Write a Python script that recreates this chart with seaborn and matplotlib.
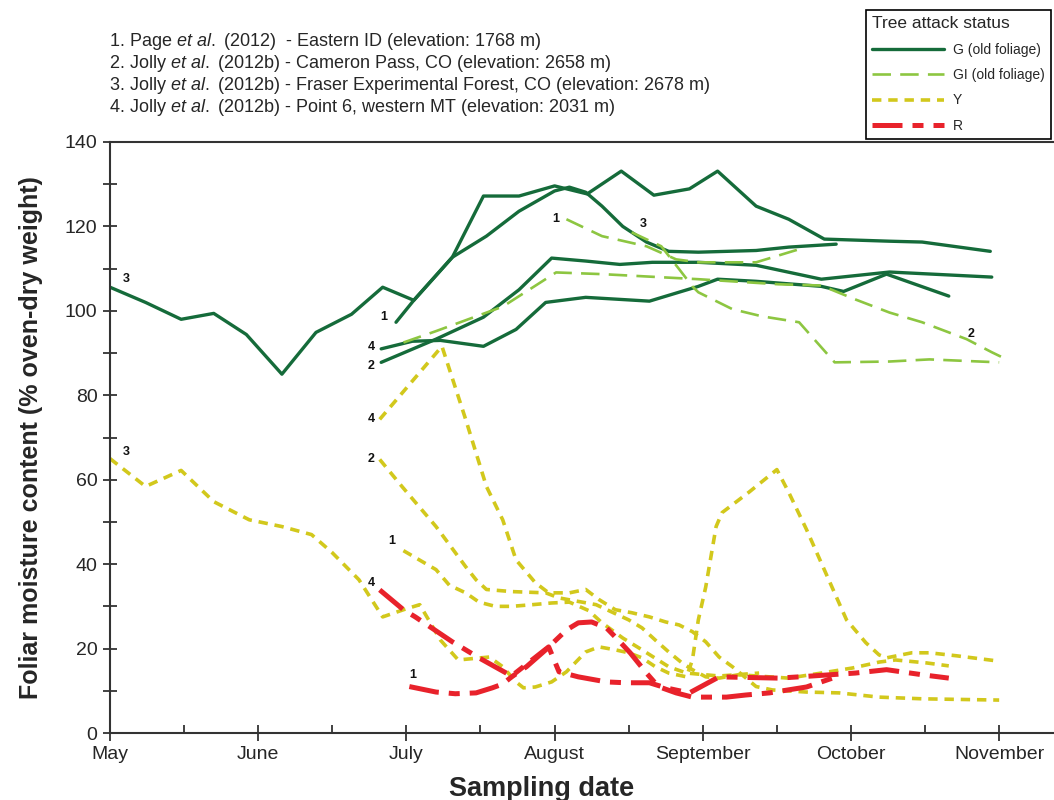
import numpy as np
import pandas as pd
import matplotlib
matplotlib.use("Agg")
import matplotlib.pyplot as plt
from matplotlib.lines import Line2D
from matplotlib.ticker import MultipleLocator
import seaborn as sns

sns.set_theme(style="ticks")
plt.rcParams["font.family"] = ["Liberation Sans", "DejaVu Sans"]
plt.rcParams["mathtext.fontset"] = "custom"
plt.rcParams["mathtext.rm"] = "Liberation Sans"
plt.rcParams["mathtext.it"] = "Liberation Sans:italic"

# x = months after 1 May, y = foliar moisture content (%)
months = ["May", "June", "July", "August", "September", "October", "November"]

# --- G (old foliage) ---
g1_x = [1.93, 2.05, 2.31, 2.54, 2.76, 3.00, 3.10, 3.21, 3.32, 3.46, 3.62, 3.77, 3.97, 4.36, 4.58, 4.90]
g1_y = [97.3, 102.5, 112.7, 117.7, 123.6, 128.4, 129.3, 128.1, 124.8, 120, 116.3, 114.1, 113.9, 114.3, 115.1, 115.8]
g2_x = [1.83, 2.20, 2.52, 2.76, 2.98, 3.21, 3.44, 3.66, 3.97, 4.36, 4.80, 5.26, 5.95]
g2_y = [87.8, 93.3, 98.5, 105, 112.5, 111.8, 111, 111.5, 111.5, 110.8, 107.5, 109.2, 108]
g3_x = [0, 0.24, 0.48, 0.70, 0.92, 1.16, 1.39, 1.63, 1.84, 2.05, 2.31, 2.52, 2.76, 3.00,
        3.22, 3.45, 3.67, 3.91, 4.10, 4.36, 4.58, 4.82, 5.26, 5.48, 5.94]
g3_y = [105.6, 102, 98, 99.4, 94.4, 85, 94.9, 99.2, 105.6, 102.5, 112.7, 127.2, 127.2, 129.6,
        127.7, 133.1, 127.4, 128.9, 133.1, 124.8, 121.7, 117, 116.5, 116.3, 114.1]
g4_x = [1.83, 2.04, 2.23, 2.52, 2.74, 2.94, 3.21, 3.64, 3.97, 4.10, 4.36, 4.80, 4.95, 5.24, 5.66]
g4_y = [91, 92.8, 93, 91.6, 95.6, 102, 103.2, 102.3, 105.8, 107.5, 107, 105.8, 104.6, 108.7, 103.5]

# --- GI (old foliage) ---
gi1_x = [3.08, 3.32, 3.62, 3.82, 3.97, 4.36, 4.65]
gi1_y = [121.7, 117.7, 115.3, 112.2, 111.5, 111.5, 114.6]
gi2_x = [1.98, 2.20, 2.65, 3.01, 3.32, 3.97, 4.51, 4.80, 5.03, 5.26, 5.48, 5.78, 5.95, 6.05]
gi2_y = [92.5, 95.2, 101, 109.1, 108.7, 107.5, 106.3, 106, 102.7, 99.6, 97.3, 93.3, 90.2, 88.5]
gi3_x = [3.52, 3.72, 3.84, 3.93, 3.97, 4.20, 4.40, 4.65, 4.89, 5.26, 5.53, 6.00]
gi3_y = [118.6, 115.3, 109.9, 105.8, 104.4, 100.4, 98.7, 97.3, 87.8, 88, 88.5, 87.8]

# --- Y ---
y1_x = [1.98, 2.20, 2.29, 2.40, 2.49, 2.60, 2.71, 2.85, 2.98, 3.10, 3.23, 3.32, 3.46, 3.59, 3.77, 3.89, 4.11, 4.38]
y1_y = [43.2, 38.7, 35, 33.2, 31, 30, 30, 30.4, 30.8, 31, 29, 26.1, 22.5, 19.7, 15.7, 14.2, 13.5, 14.2]
y2_x = [1.82, 1.97, 2.20, 2.40, 2.47, 2.54, 2.71, 2.94, 3.03, 3.28, 3.50, 3.59, 3.68, 3.77, 3.86,
        3.93, 4.02, 4.11, 4.24, 4.58, 4.80, 5.01, 5.19, 5.30, 5.51, 5.66]
y2_y = [64.8, 58.4, 48.9, 39.4, 36.3, 34, 33.5, 33.2, 32, 30.4, 26.8, 24.9, 22, 19.2, 16.6,
        15, 13.3, 13, 13.8, 13, 14.2, 15.4, 16.8, 17.3, 16.6, 15.9]
y3_x = [0.00, 0.24, 0.48, 0.70, 0.94, 1.16, 1.36, 1.50, 1.68, 1.84, 1.98, 2.09, 2.23, 2.35, 2.56,
        2.65, 2.74, 2.79, 2.87, 2.98, 3.08, 3.21, 3.30, 3.41, 3.50, 3.59, 3.68, 3.77, 3.89, 3.93,
        3.97, 4.02, 4.09, 4.13, 4.31, 4.50, 4.58, 4.70, 4.85, 4.97, 5.10, 5.19, 5.24, 5.41, 5.53,
        5.71, 5.98]
y3_y = [65, 58.4, 62.2, 54.8, 50.5, 48.9, 47, 42.7, 36.3, 27.5, 29.2, 30.4, 22, 17.3, 18,
        15.7, 12.1, 10.7, 10.9, 12.1, 14.5, 19.2, 20.4, 19.7, 19, 17.8, 15.7, 14.2, 13.3, 17.3,
        26.8, 34.6, 48.9, 52.2, 57, 62.4, 57, 48.2, 36.3, 26.8, 21.4, 18.5, 17.8, 19, 19,
        18.3, 17.1]
y4_x = [1.82, 2.24, 2.40, 2.54, 2.65, 2.74, 2.87, 2.96, 3.10, 3.21, 3.30, 3.41, 3.52, 3.64,
        3.75, 3.84, 3.93, 4.02, 4.11, 4.20, 4.36, 4.47, 4.70, 4.92, 5.19, 5.48, 6.00]
y4_y = [74.3, 91.6, 74.3, 58.4, 50.5, 41, 35.6, 33.2, 33.2, 34, 31.6, 29.2, 28.5, 27.5,
        26.3, 25.6, 24, 21.6, 18, 15.7, 11, 10.2, 9.7, 9.5, 8.5, 8.1, 7.8]

# --- R ---
r1_x = [2.02, 2.20, 2.33, 2.47, 2.58, 2.65, 2.71, 2.81, 2.94, 3.08, 3.16, 3.25, 3.35, 3.43, 3.51,
        3.62, 3.70, 3.82, 3.93, 4.02, 4.16, 4.29, 4.45, 4.70, 4.90]
r1_y = [11, 9.7, 9.3, 9.5, 10.7, 11.6, 13.3, 15.7, 19.7, 24.4, 26.1, 26.3, 24.9, 22, 19,
        14.2, 11, 9.5, 8.5, 8.5, 8.5, 9, 9.5, 10.9, 13.3]
r4_x = [1.82, 1.98, 2.06, 2.31, 2.49, 2.71, 2.96, 3.03, 3.16, 3.35, 3.48, 3.64, 3.75, 3.91,
        4.11, 4.51, 4.65, 5.03, 5.24, 5.48, 5.66]
r4_y = [33.9, 29.2, 27.5, 21.6, 17.8, 13.5, 20.4, 14.5, 13.3, 12.1, 11.9, 11.9, 10.7, 9.5,
        13.3, 13, 13.3, 14.2, 15, 13.8, 13]

# site number labels next to line ends
lab_text = ["3", "1", "4", "2", "1", "3", "2", "3", "4", "2", "1", "4", "1"]
lab_x = [0.11, 1.85, 1.76, 1.76, 3.01, 3.60, 5.81, 0.11, 1.76, 1.76, 1.90, 1.76, 2.04]
lab_y = [107.5, 98.5, 91.4, 86.9, 121.7, 120.5, 94.4, 66.5, 74.3, 65, 45.6, 35.6, 13.7]

sources = [
    r"1. Page $\mathit{et\ al.}$ (2012)  - Eastern ID (elevation: 1768 m)",
    r"2. Jolly $\mathit{et\ al.}$ (2012b) - Cameron Pass, CO (elevation: 2658 m)",
    r"3. Jolly $\mathit{et\ al.}$ (2012b) - Fraser Experimental Forest, CO (elevation: 2678 m)",
    r"4. Jolly $\mathit{et\ al.}$ (2012b) - Point 6, western MT (elevation: 2031 m)",
]

series = {
    ("G", 1): (g1_x, g1_y), ("G", 2): (g2_x, g2_y), ("G", 3): (g3_x, g3_y), ("G", 4): (g4_x, g4_y),
    ("GI", 1): (gi1_x, gi1_y), ("GI", 2): (gi2_x, gi2_y), ("GI", 3): (gi3_x, gi3_y),
    ("Y", 1): (y1_x, y1_y), ("Y", 2): (y2_x, y2_y), ("Y", 3): (y3_x, y3_y), ("Y", 4): (y4_x, y4_y),
    ("R", 1): (r1_x, r1_y), ("R", 4): (r4_x, r4_y),
}
rows = []
for (status, site), (xs, ys) in series.items():
    for i, (xv, yv) in enumerate(zip(xs, ys)):
        rows.append({"status": status, "site": site, "order": i, "x": xv, "y": yv})
df = pd.DataFrame(rows)

styles = {
    "G": dict(color="#156b3a", lw=2.4, ls="-"),
    "GI": dict(color="#8dc641", lw=1.9, ls=(0, (7, 3.5))),
    "Y": dict(color="#d2c81c", lw=2.6, ls=(0, (2.6, 1.9))),
    "R": dict(color="#e8222b", lw=3.6, ls=(0, (6, 2, 2.2, 2))),
}
legend_labels = {"G": "G (old foliage)", "GI": "GI (old foliage)", "Y": "Y", "R": "R"}

fig = plt.figure(figsize=(10.54, 8.0), dpi=100)
ax = fig.add_axes([110 / 1054, 67 / 800, 944 / 1054, 591 / 800])

for status in ["G", "GI", "Y", "R"]:
    st = styles[status]
    sub = df[df["status"] == status]
    sns.lineplot(data=sub, x="x", y="y", units="site", estimator=None, sort=False,
                 color=st["color"], linewidth=st["lw"], linestyle=st["ls"],
                 legend=False, ax=ax)

for t, xv, yv in zip(lab_text, lab_x, lab_y):
    ax.text(xv, yv, t, fontsize=9, fontweight="bold", ha="center", va="center", color="#111111")

ax.set_xlim(0, 6.37)
ax.set_ylim(0, 140)
ax.xaxis.set_major_locator(MultipleLocator(1))
ax.xaxis.set_minor_locator(MultipleLocator(0.5))
ax.yaxis.set_major_locator(MultipleLocator(20))
ax.yaxis.set_minor_locator(MultipleLocator(10))
ax.set_xticks(range(len(months)))
ax.set_xticklabels(months)
ax.tick_params(axis="x", which="major", direction="inout", length=11, width=1.3,
               labelsize=14, pad=4, color="#333333")
ax.tick_params(axis="x", which="minor", direction="in", length=6, width=1.3, color="#333333")
ax.tick_params(axis="y", which="both", direction="inout", length=10, width=1.3,
               labelsize=14, pad=4, color="#333333")
for side in ["left", "bottom", "top"]:
    ax.spines[side].set_linewidth(1.5)
    ax.spines[side].set_color("#333333")
ax.spines["right"].set_visible(False)

ax.set_xlabel("Sampling date", fontsize=19.5, fontweight="bold")
ax.set_ylabel("Foliar moisture content (% oven-dry weight)", fontsize=18, fontweight="bold")
ax.xaxis.set_label_coords(0.457, -0.072)
ax.yaxis.set_label_coords(-0.071, 0.5)

for i, s in enumerate(sources):
    fig.text(109 / 1054, 1 - (42 + 21.7 * i) / 800, s, fontsize=13, ha="left", va="center")

handles = [Line2D([0], [0], color=styles[k]["color"], lw=styles[k]["lw"], ls=styles[k]["ls"])
           for k in ["G", "GI", "Y", "R"]]
leg = fig.legend(handles, [legend_labels[k] for k in ["G", "GI", "Y", "R"]],
                 loc="upper left", bbox_to_anchor=(866 / 1054, 1 - 10 / 800),
                 title="Tree attack status", title_fontsize=12.5, fontsize=10,
                 frameon=True, fancybox=False, edgecolor="black", framealpha=1,
                 handlelength=5.2, labelspacing=0.82, borderaxespad=0, alignment="left",
                 borderpad=0.45, handletextpad=0.6)
leg.get_frame().set_linewidth(1.2)

fig.savefig("out.png", dpi=100)
